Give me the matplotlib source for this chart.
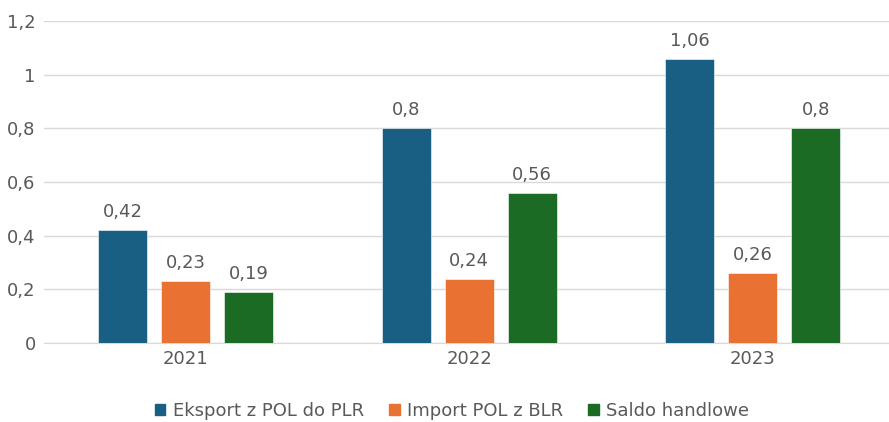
import matplotlib
matplotlib.use('Agg')
import matplotlib.pyplot as plt
from matplotlib.patches import Patch
import numpy as np

plt.rcParams['font.family'] = ['DejaVu Sans']

years = ['2021', '2022', '2023']
series_names = ['Eksport z POL do PLR', 'Import POL z BLR', 'Saldo handlowe']
eksport = [0.42, 0.80, 1.06]
import_ = [0.23, 0.24, 0.26]
saldo = [0.19, 0.56, 0.80]
colors = ['#195e83', '#e97132', '#1b6b24']

def fmt(v):
    s = ('%.2f' % v).rstrip('0').rstrip('.')
    return s.replace('.', ',')

fig = plt.figure(figsize=(8.89, 4.22), dpi=100)
ax = fig.add_axes([44 / 889, 1 - 343 / 422, 1 - 44 / 889, (343 - 21) / 422])

text_col = '#595959'
fs = 13
x = np.arange(len(years))
width = 0.173
step = 0.222

for i, (vals, col) in enumerate(zip([eksport, import_, saldo], colors)):
    pos = x + (i - 1) * step
    ax.bar(pos, vals, width, color=col, edgecolor='white', linewidth=0.4, zorder=3)
    for p, v in zip(pos, vals):
        ax.text(p, v + 0.033, fmt(v), ha='center', va='bottom',
                fontsize=fs, color=text_col)

ax.set_ylim(0, 1.2)
ax.set_xlim(-0.5, 2.48)
yt = [0, 0.2, 0.4, 0.6, 0.8, 1.0, 1.2]
ax.set_yticks(yt)
ax.set_yticklabels([fmt(v) for v in yt])
ax.set_xticks(x)
ax.set_xticklabels(years)
ax.tick_params(axis='both', length=0, labelsize=fs, labelcolor=text_col)
ax.tick_params(axis='y', pad=6)
ax.tick_params(axis='x', pad=5)
ax.grid(axis='y', color='#d9d9d9', linewidth=1, zorder=0)
for sp in ['top', 'right', 'left']:
    ax.spines[sp].set_visible(False)
ax.spines['bottom'].set_color('#d9d9d9')

handles = [Patch(color=c, label=n) for c, n in zip(colors, series_names)]
fig.legend(handles=handles, loc='center', bbox_to_anchor=(452 / 889, 1 - 411 / 422),
           ncol=3, frameon=False, fontsize=fs, labelcolor=text_col,
           handlelength=0.6, handleheight=0.6, handletextpad=0.4, columnspacing=1.4)

fig.savefig('out.png', dpi=100)
